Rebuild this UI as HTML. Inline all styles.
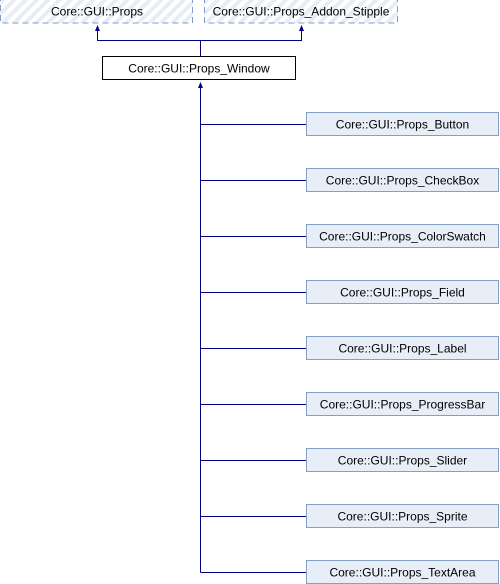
<!DOCTYPE html>
<html><head><style>
html,body{margin:0;padding:0;background:#fff;width:500px;height:584px;overflow:hidden}
</style></head><body>
<svg width="500" height="584" xmlns="http://www.w3.org/2000/svg" font-family="Liberation Sans, Arial, sans-serif" font-size="12">
<defs>
<pattern id="h" width="8" height="8" patternUnits="userSpaceOnUse" patternTransform="rotate(45)">
<rect width="8" height="8" fill="#fff"/><rect width="4" height="8" fill="#e8edf5"/>
</pattern>
</defs>
<rect x="0.5" y="-1" width="192" height="24" fill="url(#h)" stroke="#849ac8" stroke-dasharray="6,4"/>
<text x="97" y="15.5" text-anchor="middle" fill="#000">Core::GUI::Props</text>
<rect x="204.5" y="-1" width="193" height="24" fill="url(#h)" stroke="#849ac8" stroke-dasharray="6,4"/>
<text x="301" y="15.5" text-anchor="middle" fill="#000">Core::GUI::Props_Addon_Stipple</text>
<g stroke="#000080" fill="none" stroke-width="1">
<path d="M97.5 31 V40.5 H301.5 V31"/>
<path d="M200.5 40.5 V57"/>
<path d="M200.5 88 V572.5"/>
<path d="M200.5 124.5 H306"/>
<path d="M200.5 180.5 H306"/>
<path d="M200.5 236.5 H306"/>
<path d="M200.5 292.5 H306"/>
<path d="M200.5 348.5 H306"/>
<path d="M200.5 404.5 H306"/>
<path d="M200.5 460.5 H306"/>
<path d="M200.5 516.5 H306"/>
<path d="M200.5 572.5 H306"/>
</g>
<g fill="#000080">
<path d="M97.5 25 L95 31 L100 31 Z"/>
<path d="M301.5 25 L299 31 L304 31 Z"/>
<path d="M200.5 82 L198 88 L203 88 Z"/>
</g>
<rect x="102.5" y="56.5" width="193" height="23" fill="#fff" stroke="#000"/>
<text x="199" y="72.5" text-anchor="middle">Core::GUI::Props_Window</text>
<g fill="#e8eef7" stroke="#84a0c8">
<rect x="306.5" y="112.5" width="192" height="23"/>
<rect x="306.5" y="168.5" width="192" height="23"/>
<rect x="306.5" y="224.5" width="192" height="23"/>
<rect x="306.5" y="280.5" width="192" height="23"/>
<rect x="306.5" y="336.5" width="192" height="23"/>
<rect x="306.5" y="392.5" width="192" height="23"/>
<rect x="306.5" y="448.5" width="192" height="23"/>
<rect x="306.5" y="504.5" width="192" height="23"/>
<rect x="306.5" y="560.5" width="192" height="23"/>
</g>
<g text-anchor="middle" fill="#000">
<text x="402.5" y="128.5">Core::GUI::Props_Button</text>
<text x="402.5" y="184.5">Core::GUI::Props_CheckBox</text>
<text x="402.5" y="240.5">Core::GUI::Props_ColorSwatch</text>
<text x="402.5" y="296.5">Core::GUI::Props_Field</text>
<text x="402.5" y="352.5">Core::GUI::Props_Label</text>
<text x="402.5" y="408.5">Core::GUI::Props_ProgressBar</text>
<text x="402.5" y="464.5">Core::GUI::Props_Slider</text>
<text x="402.5" y="520.5">Core::GUI::Props_Sprite</text>
<text x="402.5" y="576.5">Core::GUI::Props_TextArea</text>
</g>
</svg>
</body></html>
